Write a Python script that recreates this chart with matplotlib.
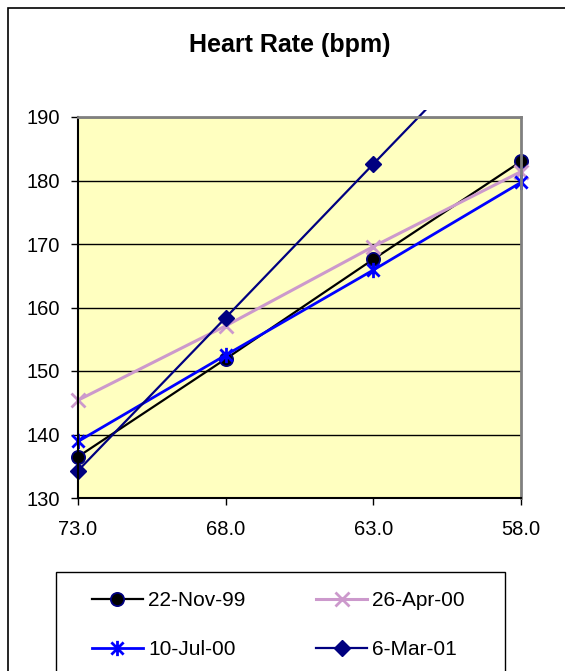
import matplotlib
matplotlib.use('Agg')
import matplotlib.pyplot as plt
import matplotlib.patches as patches
import matplotlib.transforms as mtransforms
from matplotlib.path import Path

plt.rcParams['font.family'] = ['Liberation Sans', 'DejaVu Sans']

# data
x_vals = [73.0, 68.0, 63.0, 58.0]
nov99 = [136.5, 151.9, 167.6, 183.0]
apr00 = [145.4, 157.1, 169.6, 181.4]
jul00 = [138.9, 152.5, 165.9, 179.7]
mar01 = [134.3, 158.4, 182.6, 206.7]
series_names = ['22-Nov-99', '26-Apr-00', '10-Jul-00', '6-Mar-01']
x_ticks = [73.0, 68.0, 63.0, 58.0]
y_ticks = [130, 140, 150, 160, 170, 180, 190]
title = 'Heart Rate (bpm)'

W, H = 565, 671
fig = plt.figure(figsize=(W / 100, H / 100), dpi=100)

# plot area in pixels: left 78, right 521, top 117, bottom 498
ax = fig.add_axes([78 / W, 1 - 498 / H, (521 - 78) / W, (498 - 117) / H])
ax.set_facecolor('#FFFFC0')

# excel-like asterisk marker (x plus a vertical bar)
star = Path([(-1, -1), (1, 1), (-1, 1), (1, -1), (0, -1.25), (0, 1.25)],
            [Path.MOVETO, Path.LINETO, Path.MOVETO, Path.LINETO, Path.MOVETO, Path.LINETO])

l1, = ax.plot(x_vals, nov99, color='black', lw=1.6, marker='o', ms=9.5,
              mfc='black', mec='#000080', mew=1.3, label=series_names[0], clip_on=False)
l2, = ax.plot(x_vals, apr00, color='#CC99CC', lw=2.2, marker='x', ms=10.5,
              mew=2, label=series_names[1], clip_on=False)
l3, = ax.plot(x_vals, jul00, color='#0000FF', lw=2.0, marker=star, ms=11,
              mew=2, label=series_names[2], clip_on=False)
l4, = ax.plot(x_vals, mar01, color='#000080', lw=1.6, marker='D', ms=8,
              label=series_names[3])

# excel lets the steep line run a bit above the plot area before clipping
clip = mtransforms.TransformedBbox(
    mtransforms.Bbox([[66 / W, 1 - 510 / H], [533 / W, 1 - 110 / H]]), fig.transFigure)
l4.set_clip_box(clip)

ax.set_xlim(73, 58)
ax.set_ylim(130, 190)
ax.set_xticks(x_ticks)
ax.set_xticklabels(['%.1f' % v for v in x_ticks])
ax.set_yticks(y_ticks)
ax.tick_params(direction='out', length=5, width=1, labelsize=14.5, colors='black')
ax.tick_params(axis='x', pad=10.5)
ax.tick_params(axis='y', pad=8)

ax.yaxis.grid(True, color='black', lw=1)
ax.set_axisbelow(True)
for s in ['left', 'bottom']:
    ax.spines[s].set_color('black')
    ax.spines[s].set_linewidth(1.5)
for s in ['top', 'right']:
    ax.spines[s].set_color('#808080')
    ax.spines[s].set_linewidth(2)

fig.text(289.5 / W, 1 - 52.3 / H, title, ha='center', va='baseline',
         fontsize=18, fontweight='bold')

# outer chart border (runs off the right and bottom of the picture)
fig.add_artist(patches.Rectangle((8 / W, -0.05), 1.1, 1 - 8 / H + 0.05,
                                 transform=fig.transFigure, fill=False,
                                 edgecolor='black', lw=1.2))

# legend box
fig.add_artist(patches.Rectangle((55.7 / W, -0.05), (505 - 55.7) / W,
                                 1 - 571.7 / H + 0.05, transform=fig.transFigure,
                                 fill=False, edgecolor='black', lw=1))
# legend fills by column, so order handles to get rows like the reference
fig.legend(handles=[l1, l3, l2, l4], loc='upper left',
           bbox_to_anchor=(91.7 / W, 1 - 591 / H), ncol=2, frameon=False,
           fontsize=15, borderpad=0, borderaxespad=0, handlelength=2.45,
           handletextpad=0.25, columnspacing=3.4, labelspacing=1.45, numpoints=1)

fig.savefig('out.png', dpi=100)
